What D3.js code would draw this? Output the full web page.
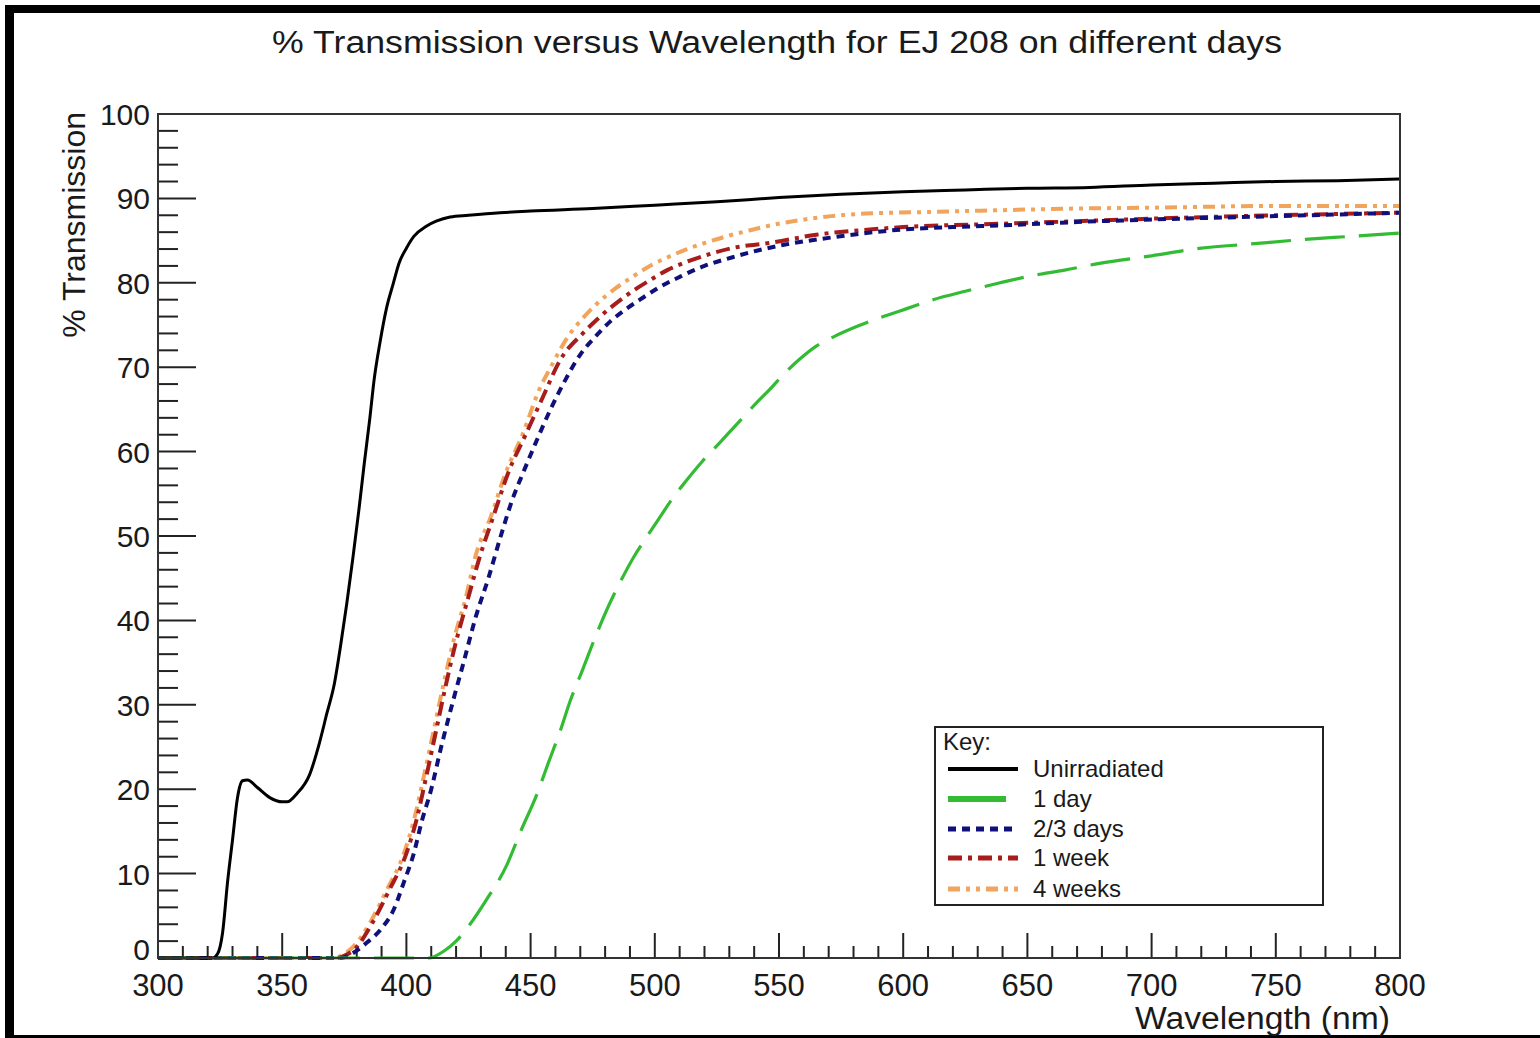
<!DOCTYPE html>
<html>
<head>
<meta charset="utf-8">
<script src="https://cdn.jsdelivr.net/npm/d3@7"></script>
<style>
  html, body { margin: 0; padding: 0; background: #fff; }
  svg { display: block; }
  text { font-family: "Liberation Sans", Arial, sans-serif; fill: #1a1a1a; }
</style>
</head>
<body>
<script>
// ---------------- DATA ----------------
const xTicks = [300, 350, 400, 450, 500, 550, 600, 650, 700, 750, 800];
const yTicks = [0, 10, 20, 30, 40, 50, 60, 70, 80, 90, 100];
const seriesNames = ["Unirradiated", "1 day", "2/3 days", "1 week", "4 weeks"];

const unirradiated = [[300,0],[322,0],[324,0.5],[326,3],[328,9],[330,14],[332,19],[334,21],[336,21.1],[340,20.2],[345,19],[350,18.5],[352,18.5],[356,19.5],[361,21.7],[365,25.5],[368,29],[371,32.5],[373.5,37],[376,42],[378.5,47.5],[381,53.4],[383,58.5],[385.3,64],[387,68.5],[389.4,73],[392,77],[394.7,79.9],[397,82.3],[400,84.1],[403,85.5],[408,86.7],[412,87.3],[417.6,87.8],[425,88],[437.7,88.3],[450,88.5],[475,88.8],[500,89.2],[525,89.6],[550,90.1],[575,90.5],[600,90.8],[625,91],[650,91.2],[675,91.3],[700,91.6],[725,91.8],[750,92],[775,92.1],[800,92.3]];

const oneDay = [[300,0],[409,0],[415,0.8],[420,2],[425.6,4],[432,6.8],[440.4,11],[446,15],[452.4,19.3],[457,23],[461.8,26.8],[466,30.5],[471,34.2],[476,38],[480.6,41.2],[486,44.5],[491.3,47.4],[497,50],[502,52.2],[507,54.4],[512.8,56.6],[519,58.8],[526,61],[531,62.6],[536,64.2],[541,65.8],[546.4,67.4],[552,69.2],[558.5,71],[565,72.5],[572,73.6],[582,74.9],[592,76],[602,77],[612,78],[625,79],[639,80],[651,80.8],[665,81.5],[679,82.3],[700,83.2],[720,84.1],[740,84.6],[760,85.1],[780,85.5],[800,85.9]];

const twoThreeDays = [[300,0],[374,0],[378,0.5],[384,1.8],[390,3.5],[395,5.8],[399,9],[403,12.4],[406,16],[410,20],[414,25],[419,30.7],[423,35],[428,40.5],[433,45],[438,50],[443,54.6],[447,57.5],[452,61],[458,65],[464,68.5],[470,71.5],[476,73.6],[482,75.4],[488,76.8],[494,78],[502,79.5],[510,80.7],[520,82],[531,83],[541,83.8],[552,84.5],[572,85.4],[599,86.3],[620,86.6],[639,86.8],[670,87.2],[700,87.5],[750,87.9],[800,88.3]];

const oneWeek = [[300,0],[372,0],[376,0.4],[380,1.3],[386,4],[393,8],[400,12.4],[404,16.3],[408,21.5],[412,27],[416,32.5],[420,37.5],[425,42.8],[429.5,47.5],[435,52.3],[441,57.5],[448,62],[455,66.5],[462,70.9],[471,74],[478,76],[484.5,77.6],[491,79],[498,80.3],[505,81.5],[513,82.5],[522,83.4],[531,84.1],[548,84.8],[565,85.7],[582,86.2],[600,86.6],[640,87],[670,87.3],[700,87.6],[750,88],[800,88.3]];

const fourWeeks = [[300,0],[371,0],[375,0.5],[378.5,1.3],[385,4],[392,8],[399,12.4],[403,16.3],[407,21.5],[411,27],[415,32.5],[419,37.6],[424,42.8],[428,47.8],[434,52.3],[440,57.5],[447,62.2],[453,67],[459,70.5],[465,73.6],[471,75.8],[477,77.6],[484,79.3],[491,80.7],[498,82],[505,83],[513,84],[521,84.8],[530,85.6],[538,86.2],[548,86.9],[558,87.4],[571,87.9],[585,88.2],[612,88.4],[639,88.6],[670,88.8],[700,88.9],[750,89.1],[800,89.1]];

// ---------------- LAYOUT / STYLE ----------------
const W = 1540, H = 1038;
const plot = { left: 158, right: 1400, top: 114, bottom: 958 };

const styles = [
  { data: unirradiated, color: "#000000", width: 3,   dash: null },
  { data: oneDay,       color: "#33bb33", width: 3.2, dash: "40,14" },
  { data: twoThreeDays, color: "#10107a", width: 4,   dash: "8,6" },
  { data: oneWeek,      color: "#a81c1c", width: 4,   dash: "14,6,4,6" },
  { data: fourWeeks,    color: "#f0a45c", width: 4,   dash: "12,6,4,6,4,6" }
];

const svg = d3.select("body").append("svg").attr("width", W).attr("height", H);
svg.append("rect").attr("width", W).attr("height", H).attr("fill", "#fff");

// outer black frame (screenshot border)
svg.append("rect").attr("x", 5).attr("y", 5).attr("width", W - 5).attr("height", 8).attr("fill", "#000");
svg.append("rect").attr("x", 5).attr("y", 5).attr("width", 9).attr("height", H - 5).attr("fill", "#000");
svg.append("rect").attr("x", 5).attr("y", 1035).attr("width", W - 5).attr("height", 3).attr("fill", "#000");

const x = d3.scaleLinear().domain([300, 800]).range([plot.left, plot.right]);
const y = d3.scaleLinear().domain([0, 100]).range([plot.bottom, plot.top]);

// title
svg.append("text").attr("x", 777).attr("y", 53).attr("text-anchor", "middle")
  .attr("font-size", 31).attr("textLength", 1010).attr("lengthAdjust", "spacingAndGlyphs")
  .text("% Transmission versus Wavelength for EJ 208 on different days");

// clip
svg.append("clipPath").attr("id", "clip").append("rect")
  .attr("x", plot.left).attr("y", plot.top - 2)
  .attr("width", plot.right - plot.left).attr("height", plot.bottom - plot.top + 4);

// ticks: x axis (inside, upward)
const gx = svg.append("g");
const xMinor = d3.range(300, 801, 10);
gx.selectAll("line").data(xMinor).join("line")
  .attr("x1", d => x(d)).attr("x2", d => x(d))
  .attr("y1", plot.bottom)
  .attr("y2", d => plot.bottom - (xTicks.includes(d) ? 25 : 12))
  .attr("stroke", "#222").attr("stroke-width", 2);
gx.selectAll("text").data(xTicks).join("text")
  .attr("x", d => x(d)).attr("y", 996).attr("text-anchor", "middle")
  .attr("font-size", 31).text(d => d);

// ticks: y axis (inside, rightward)
const gy = svg.append("g");
const yMinor = d3.range(0, 101, 2);
gy.selectAll("line").data(yMinor).join("line")
  .attr("x1", plot.left)
  .attr("x2", d => plot.left + (yTicks.includes(d) ? 38 : 20))
  .attr("y1", d => y(d)).attr("y2", d => y(d))
  .attr("stroke", "#222").attr("stroke-width", 2);
gy.selectAll("text").data(yTicks).join("text")
  .attr("x", 150).attr("y", d => y(d) + (d === 0 ? 2 : 11)).attr("text-anchor", "end")
  .attr("font-size", 30).text(d => d);

// axis titles
svg.append("text").attr("x", 1390).attr("y", 1029).attr("text-anchor", "end")
  .attr("font-size", 31).attr("textLength", 255).attr("lengthAdjust", "spacingAndGlyphs")
  .text("Wavelength (nm)");
svg.append("text").attr("transform", "translate(85,112) rotate(-90)")
  .attr("text-anchor", "end").attr("font-size", 32).text("% Transmission");

// curves
const line = d3.line().x(d => x(d[0])).y(d => y(d[1])).curve(d3.curveMonotoneX);
const gc = svg.append("g").attr("clip-path", "url(#clip)");
[...styles].reverse().forEach(s => {
  gc.append("path").datum(s.data).attr("d", line)
    .attr("fill", "none").attr("stroke", s.color).attr("stroke-width", s.width)
    .attr("stroke-dasharray", s.dash).attr("stroke-linejoin", "round");
});

// frame
svg.append("rect").attr("x", plot.left).attr("y", plot.top)
  .attr("width", plot.right - plot.left).attr("height", plot.bottom - plot.top)
  .attr("fill", "none").attr("stroke", "#333").attr("stroke-width", 2);

// legend
const lg = svg.append("g");
lg.append("rect").attr("x", 935).attr("y", 727).attr("width", 388).attr("height", 178)
  .attr("fill", "#fff").attr("stroke", "#222").attr("stroke-width", 2);
lg.append("text").attr("x", 943).attr("y", 750).attr("font-size", 24).text("Key:");
const rowY = [769, 799, 829, 858, 889];
seriesNames.forEach((name, i) => {
  const s = styles[i];
  lg.append("line").attr("x1", 948).attr("x2", i === 1 ? 1006 : 1018)
    .attr("y1", rowY[i]).attr("y2", rowY[i])
    .attr("stroke", s.color).attr("stroke-width", i === 1 ? 6 : (i === 0 ? 4 : 5))
    .attr("stroke-dasharray", i === 1 ? null : s.dash);
  lg.append("text").attr("x", 1033).attr("y", rowY[i] + 8).attr("font-size", 24).text(name);
});
</script>
</body>
</html>
